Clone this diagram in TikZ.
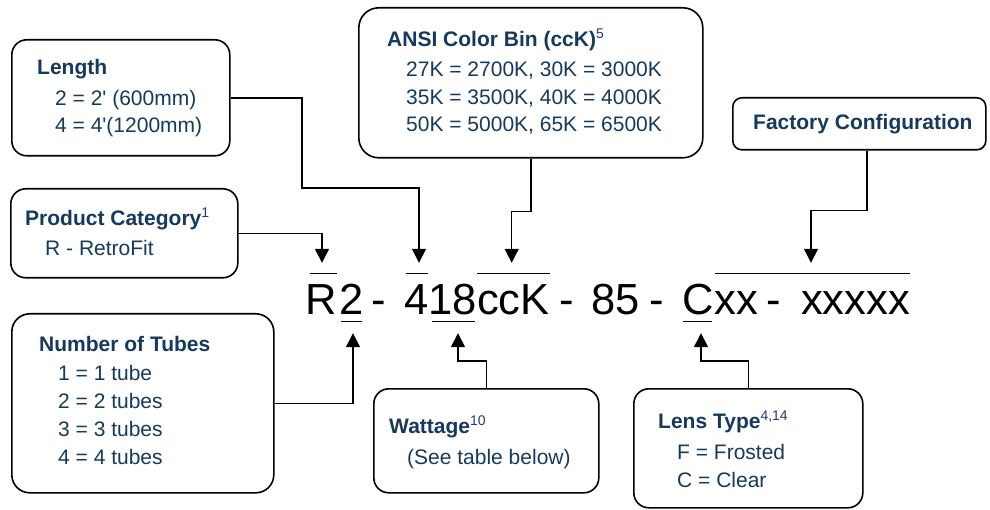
\documentclass[tikz,border=0pt]{standalone}
\usepackage{fontspec}
\setmainfont{Liberation Sans}[Ligatures=TeXOff]
\usetikzlibrary{arrows.meta}
\definecolor{navy}{HTML}{153A5E}
\definecolor{supblue}{HTML}{1F3A7A}
\newcommand\supx[1]{\raisebox{8pt}{\fontsize{14}{14}\selectfont\mdseries\color{supblue}#1}}
\tikzset{
 box/.style={draw=black, line width=1.6pt, fill=white, rounded corners=15pt, inner sep=0pt, anchor=north west},
 ttl/.style={anchor=base west, inner sep=0pt, text=navy, font=\fontsize{21}{25}\selectfont\bfseries},
 txt/.style={anchor=base west, inner sep=0pt, text=navy, font=\fontsize{21}{25}\selectfont},
 code/.style={anchor=base, inner sep=0pt, text height=40.3pt, text depth=6.7pt, font=\fontsize{43.5}{44}\selectfont},
 conn/.style={line width=1.5pt, -{Triangle[width=14pt,length=14pt]}},
 bar/.style={line width=1.2pt},
}
\begin{document}
\begin{tikzpicture}[x=1pt,y=-1pt]
\useasboundingbox (0,0) rectangle (990,510);
% boxes
\node[box, minimum width=218pt, minimum height=116pt] (len) at (11,39) {};
\node[box, minimum width=227pt, minimum height=89pt] (cat) at (10,188) {};
\node[box, minimum width=262pt, minimum height=179pt, rounded corners=18pt] (tubes) at (11,313) {};
\node[box, minimum width=344pt, minimum height=150pt, rounded corners=20pt] (ansi) at (358,7) {};
\node[box, minimum width=253pt, minimum height=52pt, rounded corners=9pt] (fac) at (732,97) {};
\node[box, minimum width=225pt, minimum height=104pt] (watt) at (373,388) {};
\node[box, minimum width=229pt, minimum height=119pt] (lens) at (633,388) {};
% box texts
\node[ttl] (lenT) at (37,74.5) {Length};
\node[txt] (lenA) at (55,105.5) {2 = 2' (600mm)};
\node[txt] (lenB) at (55,132.5) {4 = 4'(1200mm)};
\node[ttl] (catT) at (25,225.5) {Product Category\supx{1}};
\node[txt] (catA) at (45,255.5) {R - RetroFit};
\node[ttl] (tubT) at (39,351.5) {Number of Tubes};
\node[txt] (tubA) at (58,380.5) {1 = 1 tube};
\node[txt] (tubB) at (58,408.5) {2 = 2 tubes};
\node[txt] (tubC) at (58,436.5) {3 = 3 tubes};
\node[txt] (tubD) at (58,464.5) {4 = 4 tubes};
\node[ttl] (ansiT) at (387,46.5) {ANSI Color Bin (ccK)\supx{5}};
\node[txt] (ansiA) at (406,76.8) {27K = 2700K, 30K = 3000K};
\node[txt] (ansiB) at (406,104.2) {35K = 3500K, 40K = 4000K};
\node[txt] (ansiC) at (406,131.8) {50K = 5000K, 65K = 6500K};
\node[ttl] (facT) at (753,129.5) {Factory Configuration};
\node[ttl] (wattT) at (389,433.5) {Wattage\supx{10}};
\node[txt] (wattA) at (407,464.5) {(See table below)};
\node[ttl] (lensT) at (658,428.5) {Lens Type\supx{4,14}};
\node[txt] (lensA) at (677,459.5) {F = Frosted};
\node[txt] (lensB) at (677,487.5) {C = Clear};
% code
\node[code] (cR) at (321,314.3) {R};
\node[code] (c2) at (351.2,314.3) {2};
\node[code] (cd1) at (379,314.3) {-};
\node[code] (c4) at (416.3,314.3) {4};
\node[code] (c18) at (452.5,314.3) {18};
\node[code] (cccK) at (513.3,314.3) {ccK};
\node[code] (cd2) at (566.7,314.3) {-};
\node[code] (c85) at (615.8,314.3) {85};
\node[code] (cd3) at (656.7,314.3) {-};
\node[code] (cC) at (698.3,314.3) {C};
\node[code] (cxx) at (736,314.3) {xx};
\node[code] (cd4) at (774,314.3) {-};
\node[code] (cx5) at (855.5,314.3) {xxxxx};
% over/underlines
\draw[bar] ([xshift=-11pt]cR.north) -- ([xshift=16pt]cR.north);
\draw[bar] ([xshift=-10.3pt]c4.north) -- ([xshift=11.7pt]c4.north);
\draw[bar] ([xshift=-36.3pt]cccK.north) -- ([xshift=36.7pt]cccK.north);
\draw[bar] ([xshift=-21pt]cxx.north) -- ([xshift=54.5pt]cx5.north);
\draw[bar] ([xshift=-10.5pt]c2.south) -- ([xshift=10.5pt]c2.south);
\draw[bar] ([xshift=-20.8pt]c18.south) -- ([xshift=22.5pt]c18.south);
\draw[bar] ([xshift=-15.3pt]cC.south) -- ([xshift=13.7pt]cC.south);
% connectors
\draw[conn] (cat.east) -| ([xshift=1pt,yshift=11pt]cR.north);
\draw[conn] (len.east) -| (302,188) -| ([xshift=2.7pt,yshift=11pt]c4.north);
\draw[conn] (ansi.south) -- ++(0,53) -| ([xshift=-1.6pt,yshift=11pt]cccK.north);
\draw[conn] ([xshift=7.5pt]fac.south) -- ++(0,60) -| ([xshift=-44.5pt,yshift=11pt]cx5.north);
\draw[conn] (tubes.east) -| ([xshift=1.8pt,yshift=-12pt]c2.south);
\draw[conn] (watt.north) -- ++(0,-27) -| ([xshift=5.5pt,yshift=-12pt]c18.south);
\draw[conn] (lens.north) -- ++(0,-27) -| ([xshift=2.7pt,yshift=-12pt]cC.south);
\end{tikzpicture}
\end{document}
